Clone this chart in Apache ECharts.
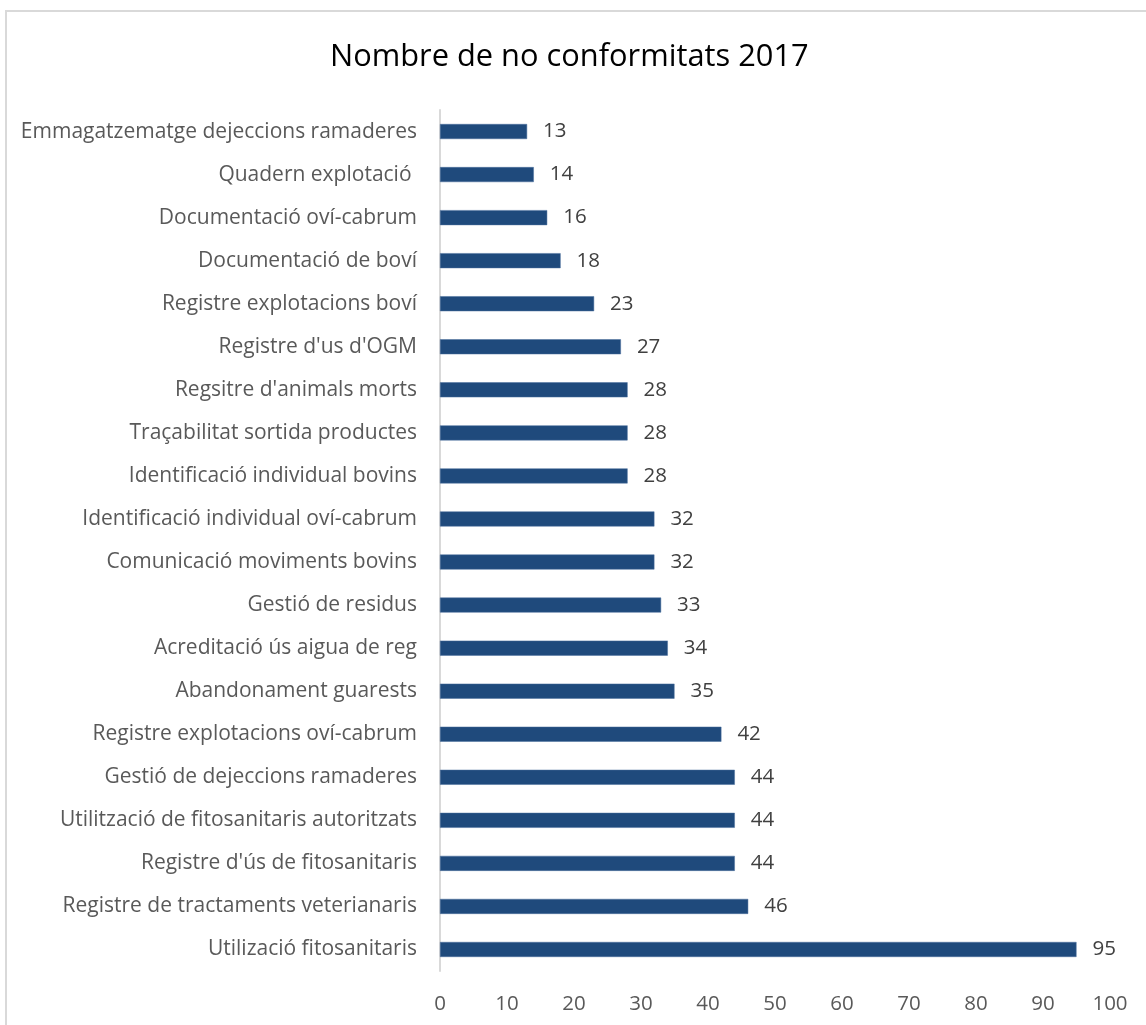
<!DOCTYPE html>
<html>
<head>
<meta charset="utf-8">
<script src="https://cdn.jsdelivr.net/npm/echarts@6/dist/echarts.min.js"></script>
<style>
  html, body { margin: 0; padding: 0; background: #fff; }
  #chart { width: 1146px; height: 1025px; }
</style>
</head>
<body>
<div id="chart"></div>
<script>
// Non-conformities recorded in 2017, listed top to bottom
const categories = [
  "Emmagatzematge dejeccions ramaderes",
  "Quadern explotació ",
  "Documentació oví-cabrum",
  "Documentació de boví",
  "Registre explotacions boví",
  "Registre d'us d'OGM",
  "Regsitre d'animals morts",
  "Traçabilitat sortida productes",
  "Identificació individual bovins",
  "Identificació individual oví-cabrum",
  "Comunicació moviments bovins",
  "Gestió de residus",
  "Acreditació ús aigua de reg",
  "Abandonament guarests",
  "Registre explotacions oví-cabrum",
  "Gestió de dejeccions ramaderes",
  "Utilització de fitosanitaris autoritzats",
  "Registre d'ús de fitosanitaris",
  "Registre de tractaments veterianaris",
  "Utilizació fitosanitaris"
];
const counts = [13, 14, 16, 18, 23, 27, 28, 28, 28, 32, 32, 33, 34, 35, 42, 44, 44, 44, 46, 95];
const xTicks = [0, 10, 20, 30, 40, 50, 60, 70, 80, 90, 100];

const FONT = "'Open Sans', 'Noto Sans', sans-serif";
const chart = echarts.init(document.getElementById('chart'), null, { renderer: 'canvas' });

chart.setOption({
  backgroundColor: '#ffffff',
  animation: false,
  title: {
    text: 'Nombre de no conformitats 2017',
    left: 325,
    top: 37,
    textStyle: { fontFamily: FONT, fontSize: 30.8, fontWeight: 'normal', color: '#000000' }
  },
  graphic: [{
    type: 'rect',
    shape: { x: 6, y: 11, width: 1300, height: 1200 },
    style: { fill: 'none', stroke: '#d9d9d9', lineWidth: 2 },
    silent: true
  }],
  grid: { left: 440, right: 36, top: 110, bottom: 54, containLabel: false },
  xAxis: {
    type: 'value',
    min: xTicks[0],
    max: xTicks[xTicks.length - 1],
    interval: 10,
    splitLine: { show: false },
    axisLine: { show: false },
    axisTick: { show: false },
    axisLabel: { margin: 23, fontFamily: FONT, fontSize: 20.5, color: '#595959' }
  },
  yAxis: {
    type: 'category',
    data: categories,
    inverse: true,
    axisLine: { show: true, lineStyle: { color: '#d9d9d9', width: 2 } },
    axisTick: { show: false },
    axisLabel: { margin: 23, fontFamily: FONT, fontSize: 21, color: '#595959' }
  },
  series: [{
    type: 'bar',
    data: counts,
    barWidth: 15,
    itemStyle: { color: '#1f4a7c', borderColor: '#4a6f9c', borderWidth: 0.5 },
    label: {
      show: true,
      position: 'right',
      distance: 16,
      fontFamily: FONT,
      fontSize: 20.5,
      color: '#404040'
    }
  }]
});
</script>
</body>
</html>
